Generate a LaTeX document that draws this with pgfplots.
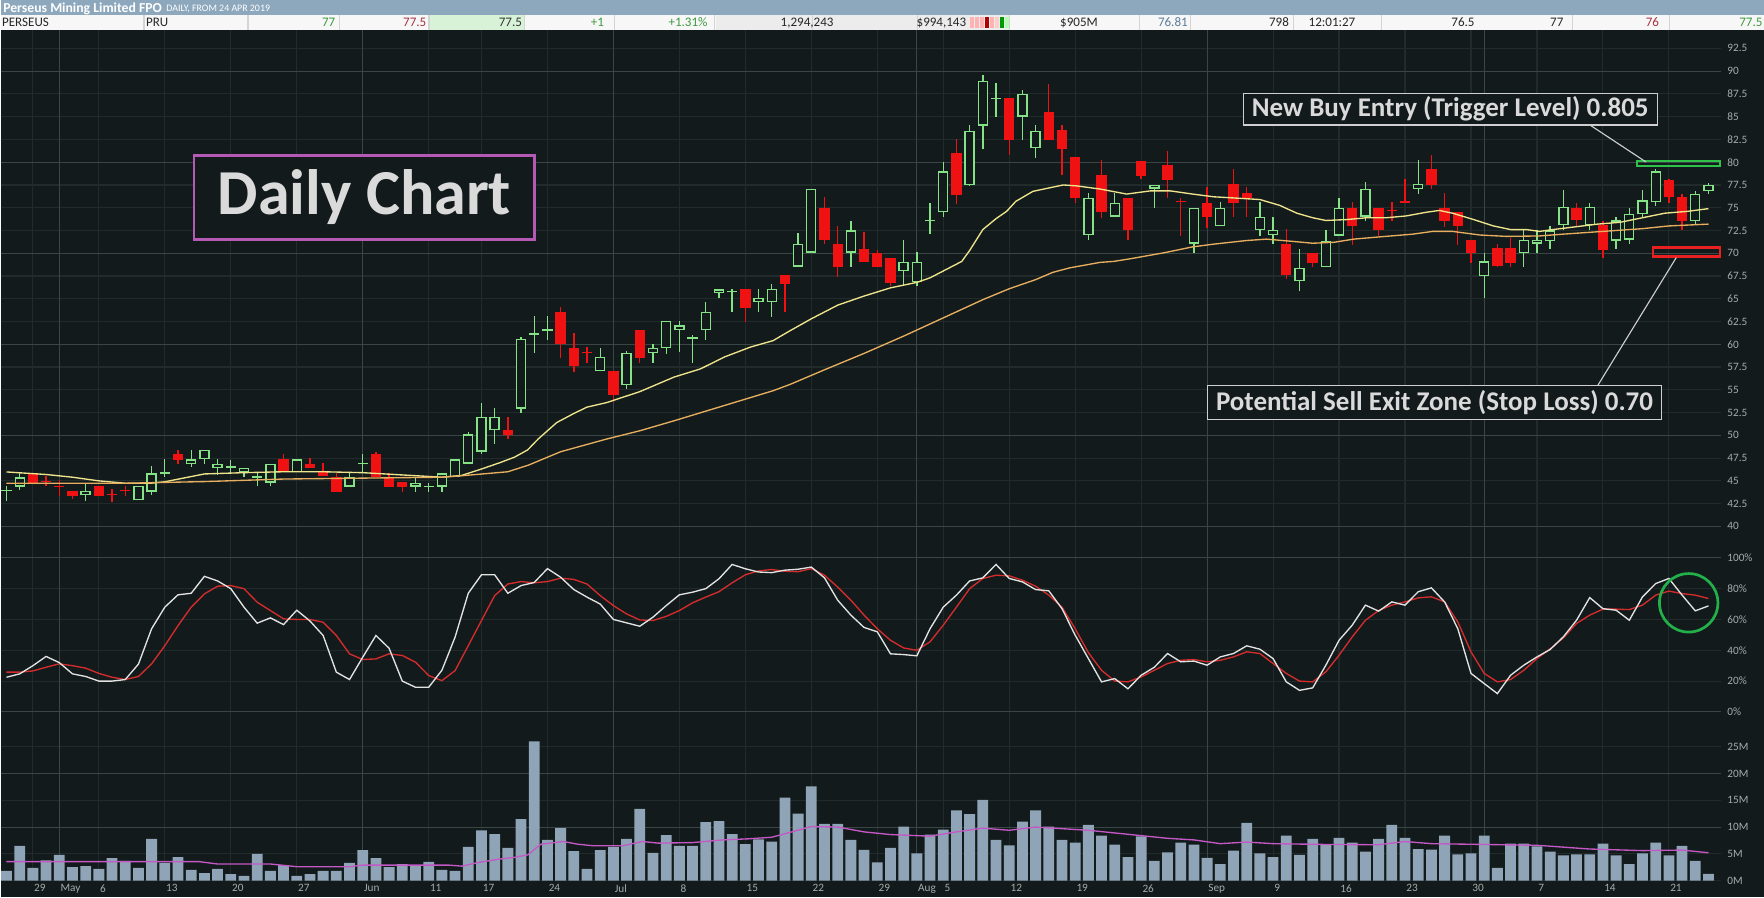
\documentclass[border=0pt]{standalone}
\usepackage{fontspec}
\setmainfont{Carlito}
\usepackage{pgfplots}
\usepackage{pgfplotstable}
\pgfplotsset{compat=1.18}
\definecolor{bg}{HTML}{121A1B}
\definecolor{gridd}{HTML}{222B2C}
\definecolor{gridb}{HTML}{3A4546}
\definecolor{upc}{HTML}{86E286}
\definecolor{dnc}{HTML}{F01212}
\definecolor{mafast}{HTML}{EEE48C}
\definecolor{maslow}{HTML}{E6AE5E}
\definecolor{stk}{HTML}{E2E2E2}
\definecolor{std}{HTML}{D42C2C}
\definecolor{volc}{HTML}{8FA5B7}
\definecolor{volma}{HTML}{C458C4}
\definecolor{lab}{HTML}{A4ACAC}
\definecolor{hdr}{HTML}{8DA8BD}
\definecolor{hdrrow}{HTML}{F7F7F7}
\definecolor{cellg}{HTML}{D8F2D8}
\definecolor{cellgray}{HTML}{ECECEC}
\definecolor{sep}{HTML}{D4D4D4}
\definecolor{tgreen}{HTML}{3C9A3C}
\definecolor{tred}{HTML}{A83040}
\definecolor{tblue}{HTML}{5A7A9A}
\definecolor{boxtext}{HTML}{DADADA}
\definecolor{boxline}{HTML}{CFCFCF}
\definecolor{purp}{HTML}{B45AB4}
\definecolor{buyg}{HTML}{2EC24A}
\definecolor{sellr}{HTML}{E82020}
\definecolor{circ}{HTML}{22B04A}
\newcommand{\tfont}{\fontsize{5}{6}\selectfont}

\pgfplotstableread{
i o h l c
0 43.9 44.45 42.8 43.95
1 44.37 46.0 44.0 45.4
6 43.4 44.8 42.8 43.9
10 42.85 44.45 42.85 44.45
11 43.8 46.6 43.5 45.84
12 45.8 47.4 45.4 45.9
14 46.86 48.4 46.5 47.37
15 47.37 48.4 46.9 48.4
16 46.4 47.37 45.66 46.9
17 46.45 47.3 45.9 46.55
18 45.9 46.4 45.4 46.4
19 45.35 45.84 44.4 45.45
20 44.8 46.9 44.4 46.9
22 45.95 47.37 45.95 47.37
26 44.37 45.84 44.37 45.4
27 46.85 47.96 45.9 46.95
31 44.37 45.4 43.8 44.8
32 44.32 44.8 43.8 44.42
33 44.37 45.84 43.8 45.84
34 45.4 47.37 45.4 47.37
35 46.9 50.4 46.9 50.1
36 48.2 53.6 48.0 52.0
37 50.55 53.0 49.1 52.0
39 52.93 60.8 52.5 60.62
40 61.0 63.1 59.0 61.2
41 61.5 63.1 60.44 61.6
45 57.03 59.6 57.03 58.6
47 55.5 59.3 55.1 59.05
49 59.05 60.07 58.0 59.6
50 59.6 62.56 58.97 62.56
51 61.54 62.6 59.2 62.1
52 60.6 61.06 58.0 60.7
53 61.54 64.7 60.5 63.55
54 65.64 66.04 65.1 66.04
55 65.7 66.1 63.55 65.8
57 64.65 66.1 63.55 65.1
58 64.65 66.67 63.0 66.1
60 68.52 72.24 68.52 71.07
61 70.05 77.05 70.05 77.05
64 70.05 73.55 68.52 72.53
68 68.0 71.5 66.5 69.03
69 66.8 70.1 66.4 69.07
70 73.5 75.5 72.06 73.6
71 74.5 80.07 74.0 78.98
73 77.45 84.08 77.4 83.46
74 84.0 89.54 81.42 88.93
75 86.9 88.7 84.99 86.96
77 84.99 87.98 82.44 87.54
78 81.53 84.08 80.44 83.46
82 72.0 76.6 71.45 76.1
84 74.0 76.6 74.0 75.55
87 77.1 77.55 75.0 77.55
90 71.04 75.0 70.0 75.0
92 72.96 75.63 72.96 75.0
95 72.52 75.63 71.93 74.0
96 72.0 74.0 71.04 72.6
98 66.9 70.5 65.8 68.4
100 68.44 72.6 68.44 71.4
101 71.93 76.11 71.93 75.0
103 74.0 77.85 73.5 77.1
107 77.05 80.2 76.5 77.6
112 67.5 70.0 65.1 69.1
115 70.0 72.6 68.5 71.48
116 71.04 72.6 70.0 71.48
117 71.3 73.0 70.5 72.5
118 73.1 77.0 72.5 75.1
120 73.1 75.5 72.5 75.1
122 71.4 74.0 70.5 73.6
123 71.5 75.0 71.0 74.3
124 74.3 77.0 74.0 75.8
125 75.6 79.3 75.2 79.0
128 73.5 76.8 73.2 76.5
129 76.8 77.7 76.5 77.5
}\up

\pgfplotstableread{
i o h l c
2 45.84 45.9 44.8 44.8
3 44.95 45.5 44.4 44.85
4 44.42 45.1 43.3 44.32
5 43.9 43.9 43.0 43.35
7 44.45 44.45 43.35 43.35
8 43.5 44.1 42.7 43.4
9 43.95 44.4 43.35 43.85
13 48.0 48.4 46.9 47.3
21 47.37 47.96 45.95 45.95
23 46.9 47.5 46.4 46.4
24 46.0 47.0 45.55 45.55
25 45.4 45.84 43.8 43.8
28 47.96 48.2 45.4 45.4
29 45.4 45.84 44.37 44.37
30 44.9 44.9 43.8 44.37
38 50.55 52.0 49.6 50.0
42 63.6 64.1 58.5 60.0
43 59.63 61.2 56.96 57.58
44 59.1 59.7 57.9 59.0
46 57.07 57.07 53.66 54.47
48 61.6 61.6 58.0 58.53
56 66.1 66.1 62.45 64.0
59 67.65 67.65 63.55 66.67
62 74.97 76.17 70.97 71.44
63 71.07 73.04 67.43 68.52
65 70.49 72.31 69.03 69.03
66 70.05 70.4 68.52 68.52
67 69.5 69.5 66.4 66.7
72 80.98 82.6 75.45 76.43
76 87.0 87.0 80.8 82.44
79 85.54 88.56 82.44 82.44
80 83.53 84.08 78.6 81.42
81 80.55 80.55 75.5 76.07
83 78.6 80.2 73.9 74.5
85 76.11 76.11 71.48 72.52
86 80.1 80.1 78.15 78.5
88 79.7 81.2 76.1 78.07
89 75.7 76.1 71.85 75.6
91 75.55 77.33 72.8 74.0
93 77.6 79.2 74.0 75.48
94 76.6 77.33 74.0 76.1
97 71.04 72.67 67.2 67.6
99 70.0 70.0 68.5 68.96
102 75.0 75.63 70.93 72.96
104 75.0 75.0 71.93 72.52
105 74.7 75.63 73.5 74.6
106 75.63 78.2 75.55 75.55
108 79.2 80.75 77.05 77.5
109 75.0 76.6 72.9 73.5
110 74.5 74.5 70.93 72.96
111 71.48 71.48 68.9 70.0
113 70.55 71.0 68.5 68.6
114 70.55 71.67 68.5 68.96
119 75.0 75.5 73.0 73.7
121 73.1 73.5 69.5 70.4
126 78.0 78.2 75.5 76.2
127 76.2 76.5 72.6 73.5
}\down

\pgfplotstableread{
i k d
0 22.5 25.8
1 24.7 25.8
2 30 26.6
3 36 29
4 32 31.2
5 24.7 30
6 23 28.4
7 20 25
8 20 22.5
9 21 21
10 31 23
11 54 31.2
12 68 43
13 76 56
14 77 68
15 88 76.6
16 85 81.6
17 80 82
18 68 80
19 57.6 71.2
20 61 65.8
21 56.7 60.4
22 66 60
23 59 60
24 49.6 58.2
25 25.8 49.6
26 21 37.7
27 35.5 34
28 49.6 34.4
29 41.3 37.7
30 20 36.6
31 16 32.3
32 16 23.6
33 27 20.3
34 48.5 26.8
35 77 43
36 89 59.3
37 89 75.5
38 77 83
39 82 84.6
40 84 83.8
41 93 84.6
42 87.4 86.8
43 79.4 86
44 74.5 83
45 70 75.5
46 60 69
47 57.8 63.6
48 55.6 59.7
49 61.5 59.3
50 69 62
51 76 65.8
52 77.7 70.8
53 80 74.5
54 86.4 78
55 95.7 83.8
56 92.9 89
57 90.8 91.5
58 90.4 92.4
59 92 91.3
60 92.6 91
61 94 93
62 87 88.7
63 72.5 81
64 62.8 72.5
65 54.8 62.8
66 52 54
67 37.7 46.5
68 37.2 41.5
69 36.4 40
70 54 45.5
71 68 56.3
72 75.8 68
73 85 80
74 87 86.6
75 95.7 88.7
76 86.6 88.3
77 84.4 85.5
78 79.4 81.6
79 78.6 75.8
80 67 68
81 49.8 54
82 34.6 38.5
83 19.5 27
84 21.6 20
85 15 19.5
86 23.8 22.7
87 29 27
88 37.9 31.4
89 32.5 33.5
90 33 34
91 30.3 32.5
92 35.7 33.5
93 37.9 35.7
94 42.9 39
95 40.7 37.9
96 34.6 31.4
97 19.5 25
98 14 20
99 15.6 19.5
100 30.3 26
101 46.5 36.8
102 56.3 48.7
103 69.3 59.5
104 65.4 65.8
105 71.4 69.3
106 69.3 71.4
107 78 74
108 80.5 74.7
109 71.4 71.4
110 54 58.4
111 25 39
112 18.4 25
113 11.9 19.5
114 23.8 21
115 30.3 27
116 35.7 34.6
117 40.5 41
118 48.7 48
119 59.5 57.4
120 74.2 62.8
121 67 66.7
122 66 66.7
123 59.5 66.4
124 74.7 69.3
125 83.3 75.8
126 86.6 78.4
127 75.8 76.8
128 65.6 75.8
129 68.8 73.6
}\stoch

\pgfplotstableread{
i v
0 1.8
1 6.5
2 2.4
3 3.8
4 4.8
5 2.5
6 2.7
7 2.2
8 4.2
9 3.7
10 2.4
11 7.8
12 3.3
13 4.4
14 2.0
15 1.4
16 2.2
17 1.2
18 0.9
19 5.0
20 1.8
21 2.9
22 0.9
23 1.2
24 1.8
25 1.8
26 3.3
27 5.7
28 4.2
29 2.5
30 3.1
31 2.9
32 3.5
33 2.0
34 1.8
35 6.3
36 9.4
37 8.7
38 6.1
39 11.5
40 26.0
41 7.6
42 9.8
43 5.5
44 2.2
45 5.7
46 6.3
47 7.8
48 13.4
49 5.2
50 8.5
51 6.5
52 6.5
53 10.9
54 11.1
55 8.7
56 6.8
57 7.7
58 7.3
59 15.5
60 12.5
61 17.6
62 10.6
63 10.6
64 7.6
65 5.75
66 3.4
67 6.1
68 10.1
69 5.1
70 8.6
71 9.5
72 13.1
73 12.4
74 15.1
75 7.6
76 6.6
77 11.0
78 13.1
79 10.1
80 7.6
81 7.1
82 10.4
83 8.4
84 6.7
85 4.4
86 8.25
87 3.7
88 5.25
89 7.1
90 6.7
91 4.25
92 3.1
93 5.6
94 10.8
95 5.1
96 4.4
97 8.4
98 4.8
99 7.8
100 6.8
101 8.0
102 7.1
103 5.4
104 7.8
105 10.4
106 8.0
107 5.9
108 5.8
109 8.4
110 4.9
111 5.1
112 8.4
113 2.4
114 6.9
115 6.9
116 6.4
117 5.4
118 4.7
119 4.9
120 4.9
121 6.9
122 4.7
123 3.1
124 5.1
125 7.1
126 4.7
127 6.5
128 3.7
129 1.25
}\vol

\pgfplotsset{
  panel/.style={
    scale only axis, width=765pt, xmin=-0.45, xmax=129.97,
    axis line style={draw=none}, major tick length=0pt, tick style={draw=none},
    xtick={2,4,7,12,17,22,27,32,36,41,46,51,56,61,66,69,71,76,81,86,91,96,101,106,111,116,121,126},
    xmajorgrids, ymajorgrids,
    major grid style={draw=gridd, line width=0.5pt},
    extra x ticks={4,27,46,69,91,112}, extra x tick labels={},
    extra x tick style={grid=major, major grid style={draw=gridb, line width=0.5pt}},
    extra y tick labels={},
    extra y tick style={grid=major, major grid style={draw=gridb, line width=0.5pt}},
    yticklabel pos=right,
    yticklabel style={font=\tfont, text=lab, anchor=west, inner sep=0pt, xshift=2.5pt},
    clip=true,
  },
  wick/.style={only marks, mark=*, mark size=0pt, mark options={draw=none, fill=none}, forget plot,
    error bars/.cd, y dir=plus, y explicit, error mark=none,
    error bar style={draw=#1, line width=0.6pt}},
  body/.style 2 args={only marks, mark=*, mark size=0pt, mark options={draw=none, fill=none}, forget plot,
    error bars/.cd, y dir=plus, y explicit, error mark=none,
    error bar style={draw=#1, line width=#2}},
}

\begin{document}
\begin{tikzpicture}
\begin{scope}[x=0.5pt,y=-0.5pt]
\fill[bg] (0,0) rectangle (1568,798);
\useasboundingbox (0,0) rectangle (1568,798);
\fill[hdr] (0,0) rectangle (1568,13.5);
\fill[hdrrow] (0,13.5) rectangle (1568,26.5);
\fill[cellg] (382,13.5) rectangle (466,26.5);
\fill[cellgray] (636,13.5) rectangle (897,26.5);
\foreach \xx in {127.5,220,301,381,466,546,635,722,815,897,1013,1058,1150,1228,1398,1484}
  \draw[sep, line width=0.5pt] (\xx,13.5) -- (\xx,26.5);
\node[anchor=base west, inner sep=0pt, text=white, font=\fontsize{6.1}{7}\selectfont\bfseries] at (2,11) {Perseus Mining Limited FPO};
\node[anchor=base west, inner sep=0pt, text=white, font=\fontsize{4.4}{5}\selectfont] at (147,10.5) {DAILY, FROM 24 APR 2019};
\begin{scope}[every node/.style={inner sep=0pt, font=\fontsize{5.8}{7}\selectfont, anchor=base east}]
\node[anchor=base west, text=black!85] at (1,24) {PERSEUS};
\node[anchor=base west, text=black!85] at (129,24) {PRU};
\node[text=tgreen] at (298,24) {77};
\node[text=tred] at (379,24) {77.5};
\node[text=black!80] at (464,24) {77.5};
\node[text=tgreen] at (537,24) {+1};
\node[text=tgreen] at (629,24) {+1.31\%};
\node[text=black!85] at (741,24) {1,294,243};
\node[text=black!85] at (859,24) {\$994,143};
\node[text=black!85] at (976,24) {\$905M};
\node[text=tblue] at (1056,24) {76.81};
\node[text=black!85] at (1146,24) {798};
\node[text=black!85] at (1205,24) {12:01:27};
\node[text=black!85] at (1311,24) {76.5};
\node[text=black!85] at (1390,24) {77};
\node[text=tred] at (1475,24) {76};
\node[text=tgreen] at (1567,24) {77.5};
\end{scope}
\fill[red!30!white] (862,15.5) rectangle (865.5,25);
\fill[red!30!white] (866.5,15.5) rectangle (870,25);
\fill[red!30!white] (871,15.5) rectangle (874.5,25);
\fill[red!70!black] (875.5,15.5) rectangle (879,25);
\fill[red!30!white] (880,15.5) rectangle (883.5,25);
\fill[red!20!white] (884.5,15.5) rectangle (888,25);
\fill[green!60!black] (889,15.5) rectangle (892.5,25);
\fill[green!30!white] (893.5,15.5) rectangle (897,25);
\end{scope}

% ---------- price panel ----------
\begin{axis}[panel, at={(0pt,-13.5pt)}, anchor=north west, height=232.5pt,
  ymin=37.04, ymax=94.48, xticklabels={},
  ytick={40,42.5,45,47.5,50,52.5,55,57.5,60,62.5,65,67.5,70,72.5,75,77.5,80,82.5,85,87.5,90,92.5},
  yticklabels={40,42.5,45,47.5,50,52.5,55,57.5,60,62.5,65,67.5,70,72.5,75,77.5,80,82.5,85,87.5,90,92.5},
  extra y ticks={40,50,60,70,80,90}]
\addplot[wick=upc] table[x=i, y=l, y error plus expr={\thisrow{h}-\thisrow{l}}] {\up};
\addplot[body={upc}{4.6pt}] table[x=i, y=o, y error plus expr={max(\thisrow{c}-\thisrow{o},0.15)}] {\up};
\addplot[body={bg}{3.4pt}] table[x=i, y expr={\thisrow{o}+0.15}, y error plus expr={max(\thisrow{c}-\thisrow{o}-0.30,0)}] {\up};
\addplot[wick=dnc] table[x=i, y=l, y error plus expr={\thisrow{h}-\thisrow{l}}] {\down};
\addplot[body={dnc}{4.6pt}] table[x=i, y=c, y error plus expr={max(\thisrow{o}-\thisrow{c},0.15)}] {\down};
\addplot[mafast, line width=0.6pt, mark=none] coordinates {
(0,45.98) (3,45.7) (5,45.4) (7,45.0) (9,44.74) (11,44.75) (12,44.9) (15,45.76) (18,45.9) (21,46.0) (24,46.0) (27,45.9) (30,45.65) (33,45.4) (34.5,45.6) (36,46.3) (37.4,47.0) (38.5,47.6) (39.5,48.4) (40.3,49.6) (41.7,51.4) (43,52.4) (44,53.1) (45.5,53.6) (48,54.8) (50.6,56.4) (52.6,57.3) (54.4,58.6) (56.4,59.7) (58.1,60.4) (59.4,61.5) (61,62.8) (63,64.3) (65,65.3) (67,66.2) (69,66.8) (70,67.3) (71,68.05) (72.4,69.1) (73,70.3) (74,72.6) (75,73.8) (75.8,74.6) (76.5,75.7) (77.8,76.8) (79.1,77.2) (80.1,77.5) (81.1,77.4) (82.9,77.05) (84.9,76.5) (86.7,76.85) (88.2,76.85) (89.9,76.5) (91.5,76.2) (92.7,76.1) (95,75.9) (96.5,75.26) (97.8,74.4) (99,73.9) (100,73.6) (101.6,73.7) (103.1,73.9) (104.6,73.9) (106.1,74.1) (107.6,74.5) (108.6,74.7) (109.6,74.4) (111.2,73.7) (112.7,73.0) (114,72.6) (115.2,72.6) (116.2,72.4) (117.2,72.6) (118.9,72.9) (120.6,73.2) (122.3,73.4) (124,73.9) (125.7,74.4) (127.4,74.6) (129,74.9)};
\addplot[maslow, line width=0.6pt, mark=none] coordinates {
(0,44.74) (9,44.74) (15,44.92) (21,45.2) (27,45.3) (33,45.4) (34.4,45.55) (38,46.0) (39.6,46.75) (42,48.2) (45.5,49.6) (48,50.5) (50.6,51.6) (53.1,52.7) (55.6,53.8) (58.1,54.9) (59.4,55.6) (62,57.2) (65,59.0) (68,60.9) (71,62.9) (74,64.9) (76,66.1) (78,67.1) (79.3,67.9) (80.6,68.4) (82.9,69.0) (83.9,69.1) (85.2,69.4) (87.8,70.07) (89.9,70.7) (91.5,71.0) (94,71.4) (95.5,71.55) (97.5,71.3) (99,71.1) (100.6,71.2) (102.1,71.55) (104.1,71.8) (106.6,72.1) (108.1,72.4) (109.6,72.4) (111.7,72.0) (113.7,71.85) (116.2,71.9) (118,72.1) (120,72.3) (122,72.5) (124,72.7) (126,73.0) (129,73.2)};
\draw[buyg, line width=1pt] (axis cs:123.6,79.55) rectangle (axis cs:129.85,80.15);
\draw[sellr, line width=1pt] (axis cs:124.8,69.65) rectangle (axis cs:129.85,70.64);
\end{axis}

% ---------- stochastic panel ----------
\begin{axis}[panel, at={(0pt,-246pt)}, anchor=north west, height=76.5pt,
  ymin=-8.76, ymax=102.92, xticklabels={},
  ytick={0,20,40,60,80,100},
  yticklabels={0\%,20\%,40\%,60\%,80\%,100\%},
  extra y ticks={0,100}]
\addplot[std, line width=0.6pt, mark=none] table[x=i, y=d] {\stoch};
\addplot[stk, line width=0.6pt, mark=none] table[x=i, y=k] {\stoch};
\draw[circ, line width=1.2pt] (axis cs:127.5,70.8) circle[radius=13pt];
\end{axis}

% ---------- volume panel ----------
\begin{axis}[panel, at={(0pt,-322.5pt)}, anchor=north west, height=69pt,
  ymin=0, ymax=28.99,
  xticklabels={29,May,6,13,20,27,Jun,11,17,24,Jul,8,15,22,29,Aug,5,12,19,26,Sep,9,16,23,30,7,14,21},
  xticklabel style={font=\tfont, text=lab, anchor=north west, inner sep=0pt, yshift=-1.5pt, xshift=0.4pt},
  ytick={0,5,10,15,20,25},
  yticklabels={0M,5M,10M,15M,20M,25M},
  extra y ticks={10,20}]
\addplot[ybar, bar width=4.8pt, fill=volc, draw=none] table[x=i, y=v] {\vol};
\addplot[volma, line width=0.6pt, mark=none] coordinates {
(0,3.54) (14.6,3.54) (16,3.1) (20,3.1) (22,2.6) (26,2.6) (27,2.9) (33.5,2.9) (34.5,2.7) (35.8,3.4) (37.3,4.0) (38.4,4.3) (39.5,4.8) (40.5,6.8) (42.2,7.3) (43.3,6.8) (44.5,6.5) (46.7,6.5) (48.2,7.3) (49.4,7.0) (52,7.1) (54.3,7.6) (56.2,7.8) (58,8.1) (59,8.75) (61,10.1) (63,10.0) (65,9.1) (67,8.6) (70,8.3) (72,9.1) (74,9.8) (76,9.4) (78,10.0) (80,9.7) (82,9.4) (84,8.9) (86,8.4) (88,7.9) (90,7.6) (92,6.9) (94,7.2) (96,6.9) (100,6.75) (104,6.7) (106,7.3) (108,6.9) (112,6.75) (116,6.6) (120,5.9) (124,5.6) (127,5.7) (129,5.2)};
\end{axis}

% ---------- annotations ----------
\begin{scope}[x=0.5pt,y=-0.5pt]
\draw[boxline, line width=0.5pt] (1413,111) -- (1463,144);
\draw[boxline, line width=0.5pt] (1420,343) -- (1490,229);
\node[draw=purp, line width=1.2pt, fill=bg, minimum width=151.5pt, minimum height=37.5pt, inner sep=0pt,
  text=boxtext, font=\fontsize{28.5}{30}\selectfont\bfseries] at (323.5,175.5) {Daily Chart};
\node[draw=boxline, line width=0.6pt, fill=bg, minimum width=184pt, minimum height=14pt, inner sep=0pt,
  text=boxtext, font=\fontsize{12}{13}\selectfont\bfseries] at (1289,97) {New Buy Entry (Trigger Level) 0.805};
\node[draw=boxline, line width=0.6pt, fill=bg, minimum width=202pt, minimum height=15pt, inner sep=0pt,
  text=boxtext, font=\fontsize{12}{13}\selectfont\bfseries] at (1275,358) {Potential Sell Exit Zone (Stop Loss) 0.70};
\end{scope}
\end{tikzpicture}
\end{document}
